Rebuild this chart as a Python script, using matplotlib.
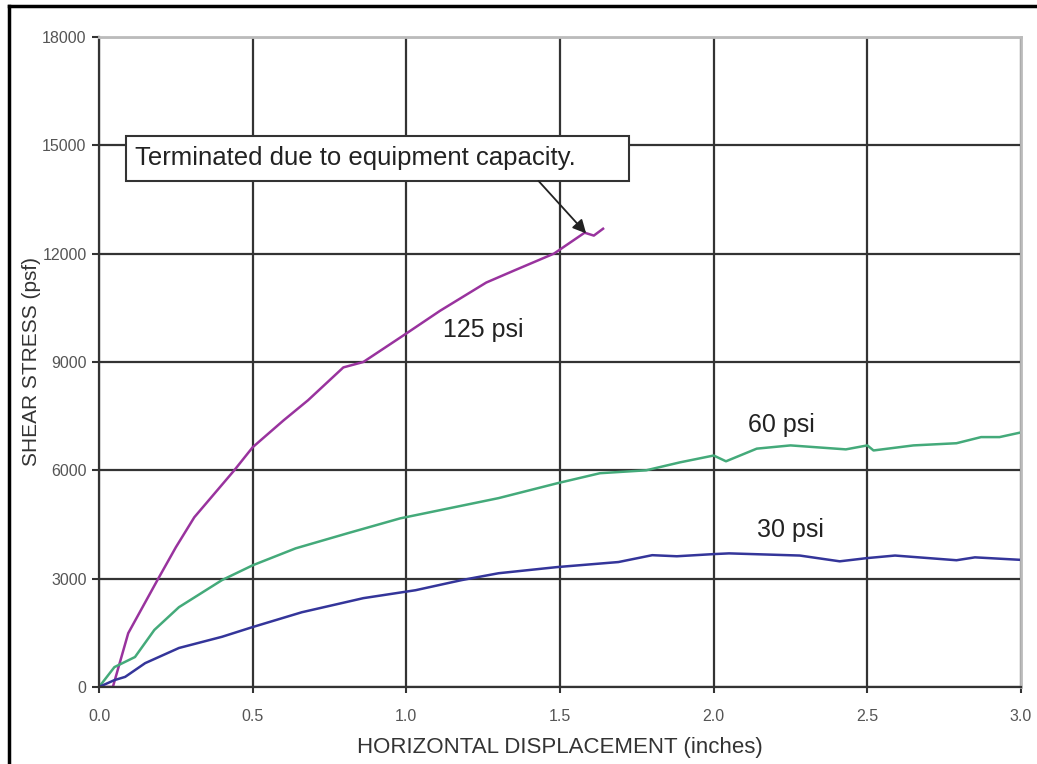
import numpy as np
from matplotlib import pyplot as plt
from matplotlib.lines import Line2D
from matplotlib.patches import Rectangle

plt.rcParams['font.family'] = ['Liberation Sans', 'DejaVu Sans']

# data (displacement in inches, shear stress in psf)
x_125 = [0.0, 0.045, 0.095, 0.19, 0.25, 0.31, 0.44, 0.50, 0.60, 0.68, 0.795,
         0.86, 1.0, 1.11, 1.26, 1.35, 1.48, 1.58, 1.61, 1.64]
y_125 = [0, 0, 1490, 2960, 3870, 4700, 6000, 6640, 7380, 7940, 8850,
         9000, 9790, 10420, 11200, 11530, 12000, 12580, 12500, 12690]

x_60 = [0.0, 0.05, 0.117, 0.18, 0.26, 0.40, 0.50, 0.64, 0.81, 0.98, 1.14, 1.30,
        1.49, 1.63, 1.78, 1.89, 2.0, 2.04, 2.14, 2.25, 2.43, 2.50, 2.52, 2.65,
        2.79, 2.87, 2.93, 3.0]
y_60 = [0, 550, 830, 1580, 2210, 2960, 3370, 3840, 4260, 4670, 4950, 5230,
        5640, 5920, 6000, 6220, 6410, 6250, 6600, 6690, 6580, 6690, 6550, 6690,
        6750, 6920, 6920, 7050]

x_30 = [0.0, 0.05, 0.085, 0.15, 0.26, 0.40, 0.50, 0.66, 0.86, 1.03, 1.18, 1.30,
        1.49, 1.69, 1.80, 1.88, 2.0, 2.05, 2.28, 2.41, 2.50, 2.59, 2.79, 2.85, 3.0]
y_30 = [0, 190, 280, 660, 1080, 1390, 1660, 2070, 2460, 2680, 2960, 3150,
        3320, 3460, 3650, 3620, 3680, 3700, 3640, 3480, 3570, 3640, 3510, 3590, 3520]

x_ticks = [0.0, 0.5, 1.0, 1.5, 2.0, 2.5, 3.0]
y_ticks = [0, 3000, 6000, 9000, 12000, 15000, 18000]

fig = plt.figure(figsize=(10.37, 7.64), dpi=100)
ax = fig.add_axes([0.0955, 0.1008, 0.8891, 0.8508])

ax.plot(x_125, y_125, color='#99339E', lw=1.8)
ax.plot(x_60, y_60, color='#44AA7A', lw=1.8)
ax.plot(x_30, y_30, color='#34359A', lw=1.8)

ax.set_xlim(0, 3.0)
ax.set_ylim(0, 18000)
ax.set_xticks(x_ticks)
ax.set_xticklabels(['%.1f' % v for v in x_ticks])
ax.set_yticks(y_ticks)
ax.set_yticklabels([str(v) for v in y_ticks])
ax.grid(True, color='#333333', lw=1.6)
ax.set_axisbelow(True)

for s in ['top', 'right']:
    ax.spines[s].set_color('#bbbbbb')
    ax.spines[s].set_linewidth(2)
for s in ['left', 'bottom']:
    ax.spines[s].set_color('#333333')
    ax.spines[s].set_linewidth(1.6)

ax.tick_params(axis='y', direction='out', length=5, width=1.5, color='#333333',
               labelsize=11.5, labelcolor='#555555', pad=4)
ax.tick_params(axis='x', direction='out', length=4, width=1.5, color='#333333',
               labelsize=11.5, labelcolor='#555555', pad=12)

ax.set_xlabel('HORIZONTAL DISPLACEMENT (inches)', fontsize=16, color='#333333', labelpad=9)
ax.set_ylabel('SHEAR STRESS (psf)', fontsize=15, color='#333333', labelpad=1)

ax.text(1.25, 9890, '125 psi', fontsize=18, color='#222222',
        ha='center', va='center')
ax.text(2.22, 7260, '60 psi', fontsize=18, color='#222222',
        ha='center', va='center')
ax.text(2.25, 4350, '30 psi', fontsize=18, color='#222222',
        ha='center', va='center')

# callout box with arrow to the end of the 125 psi curve
ax.add_patch(Rectangle((0.088, 14013), 1.638, 1246, fc='white', ec='#333333',
                       lw=1.5, zorder=4))
ax.text(0.117, 14640, 'Terminated due to equipment capacity.', fontsize=18.5,
        color='#222222', ha='left', va='center', zorder=5)
ax.annotate('', xy=(1.585, 12560), xytext=(1.43, 14013),
            arrowprops=dict(arrowstyle='-|>', color='#222222', lw=1.3,
                            mutation_scale=20, shrinkA=0, shrinkB=0), zorder=5)

# outer frame of the picture
fig.add_artist(Line2D([0.0085, 0.0085], [0.0, 0.992], color='black', lw=2.5))
fig.add_artist(Line2D([0.0085, 1.0], [0.992, 0.992], color='black', lw=2.5))

fig.savefig('out.png', dpi=100)
